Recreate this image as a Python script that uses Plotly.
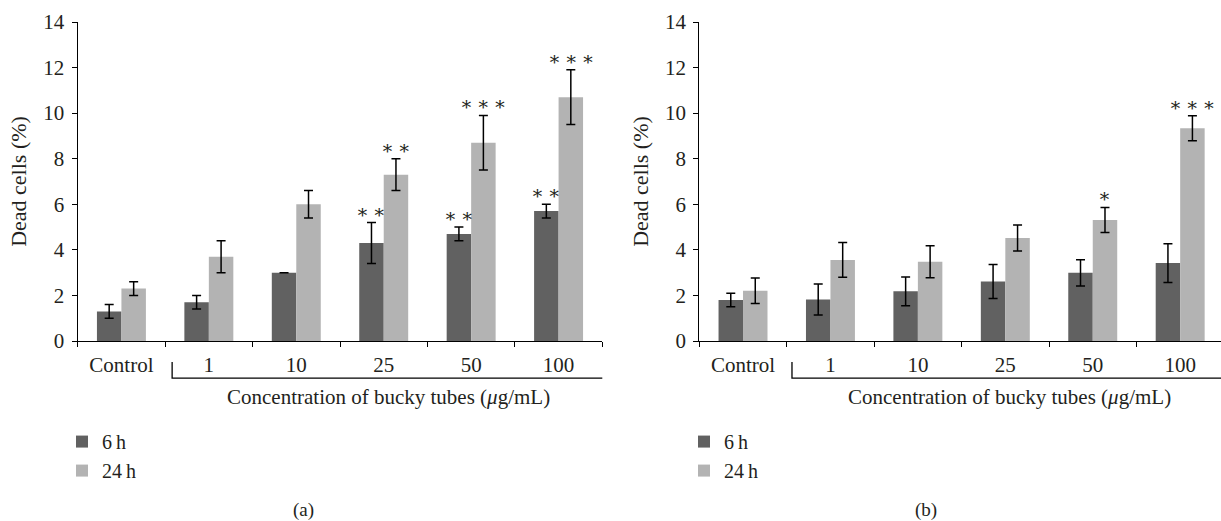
import plotly.graph_objects as go

# ---- data -------------------------------------------------------------
categories = ["Control", "1", "10", "25", "50", "100"]
series_names = ["6\u2009h", "24\u2009h"]

# panel (a)
a_6h = [1.3, 1.7, 3.0, 4.3, 4.7, 5.7]
a_6h_err = [0.3, 0.3, 0.0, 0.9, 0.3, 0.3]
a_24h = [2.3, 3.7, 6.0, 7.3, 8.7, 10.7]
a_24h_err = [0.3, 0.7, 0.6, 0.7, 1.2, 1.2]
a_6h_sig = ["", "", "", "**", "**", "**"]
a_24h_sig = ["", "", "", "**", "***", "***"]

# panel (b)
b_6h = [1.8, 1.82, 2.18, 2.61, 2.99, 3.42]
b_6h_err = [0.3, 0.68, 0.63, 0.75, 0.58, 0.85]
b_24h = [2.21, 3.56, 3.48, 4.52, 5.31, 9.34]
b_24h_err = [0.56, 0.76, 0.7, 0.57, 0.55, 0.55]
b_6h_sig = ["", "", "", "", "", ""]
b_24h_sig = ["", "", "", "", "*", "***"]

y_ticks = [0, 2, 4, 6, 8, 10, 12, 14]

# ---- style ------------------------------------------------------------
DARK = "#616161"
LIGHT = "#b3b3b3"
FONT = "Liberation Serif"
TXT = "#231f20"
FS = 21
W, H = 1221, 521
TOP, BOTTOM = 22.3, 341.0          # pixel rows of y=14 and y=0
PLOT_H = BOTTOM - TOP


def py(px_row):
    """pixel row -> paper y coordinate"""
    return (BOTTOM - px_row) / PLOT_H


xpos = list(range(len(categories)))
fig = go.Figure()

panels = [
    ("x", "y", "legend", (a_6h, a_6h_err, a_6h_sig), (a_24h, a_24h_err, a_24h_sig)),
    ("x2", "y2", "legend2", (b_6h, b_6h_err, b_6h_sig), (b_24h, b_24h_err, b_24h_sig)),
]

BAR_OFFSET = 0.14  # half of one bar width in category units

for xa, ya, leg, s6, s24 in panels:
    for name, color, (vals, errs, sig), off in [
        (series_names[0], DARK, s6, -BAR_OFFSET),
        (series_names[1], LIGHT, s24, BAR_OFFSET),
    ]:
        fig.add_trace(go.Bar(
            x=xpos, y=vals, name=name, marker_color=color,
            marker_line_width=0, xaxis=xa, yaxis=ya, legend=leg,
            error_y=dict(type="data", array=errs, visible=True,
                         color="black", thickness=1.5, width=4.5),
        ))
        for i, (v, e, s) in enumerate(zip(vals, errs, sig)):
            if s:
                fig.add_annotation(
                    x=i + off, y=v + e, xref=xa, yref=ya,
                    text="\u2009".join("\u2217" * len(s)),
                    showarrow=False, yanchor="middle", yshift=12,
                    font=dict(family="DejaVu Serif", size=19, color=TXT),
                )

axis_common = dict(
    showline=True, linecolor="black", linewidth=1.3, showgrid=False,
    zeroline=False,
)

minor_ticks = dict(tickmode="linear", tick0=-0.5, dtick=1, ticks="outside",
                   ticklen=5, tickcolor="black", tickwidth=1.3)

ncat = len(categories)
cat_px = (602.3 - 77.7) / ncat
yaxis_common = dict(range=[0, 14], tickvals=y_ticks, ticks="outside", ticklen=5,
                    tickcolor="black", tickwidth=1.3, ticklabelstandoff=3,
                    title=dict(text="Dead cells (%)", standoff=10, font=dict(size=22)),
                    **axis_common)
fig.update_layout(
    width=W, height=H, plot_bgcolor="white", paper_bgcolor="white",
    margin=dict(l=0, r=0, t=TOP, b=H - BOTTOM),
    barmode="group", bargap=0.44, bargroupgap=0,
    font=dict(family=FONT, size=FS, color=TXT),
    xaxis=dict(domain=[77.7 / W, 602.3 / W], range=[-0.5, ncat - 0.5],
               tickmode="array", tickvals=xpos, ticktext=categories, ticks="",
               ticklabelstandoff=5, minor=minor_ticks, **axis_common),
    xaxis2=dict(domain=[699.3 / W, 1.0],
                range=[-0.5, -0.5 + (W - 699.3) / cat_px], anchor="y2",
                tickmode="array", tickvals=xpos, ticktext=categories, ticks="",
                ticklabelstandoff=5, minor=minor_ticks, **axis_common),
    yaxis=yaxis_common,
    yaxis2=dict(anchor="x2", **yaxis_common),
    legend=dict(x=62 / W, y=py(422), xanchor="left", yanchor="top",
                font=dict(size=20), traceorder="normal", bgcolor="rgba(0,0,0,0)",
                tracegroupgap=0),
    legend2=dict(x=684 / W, y=py(422), xanchor="left", yanchor="top",
                 font=dict(size=20), traceorder="normal", bgcolor="rgba(0,0,0,0)",
                 tracegroupgap=0),
    showlegend=True,
)

# brackets grouping the concentration categories, plus axis captions
for xa, x_left, x_right, cap_x, label, label_x in [
    ("x", 0.58, 5.52, 3.05, "(a)", 303),
    ("x2", 0.56, 5.6, 3.05, "(b)", 926),
]:
    y_hi, y_lo = py(362), py(378)
    fig.add_shape(type="path", xref=xa, yref="paper",
                  path=f"M {x_left} {y_hi} L {x_left} {y_lo} L {x_right} {y_lo} L {x_right} {y_hi}",
                  line=dict(color="black", width=1.3))
    fig.add_annotation(x=cap_x, y=py(397), xref=xa, yref="paper",
                       yanchor="middle", xanchor="center",
                       text="Concentration of bucky tubes (<i>\u03bc</i>g/mL)",
                       showarrow=False, font=dict(size=FS))
    fig.add_annotation(x=label_x / W, y=py(510), xref="paper", yref="paper",
                       yanchor="middle", xanchor="center",
                       text=label, showarrow=False, font=dict(size=19))

fig.write_html("out.html")
